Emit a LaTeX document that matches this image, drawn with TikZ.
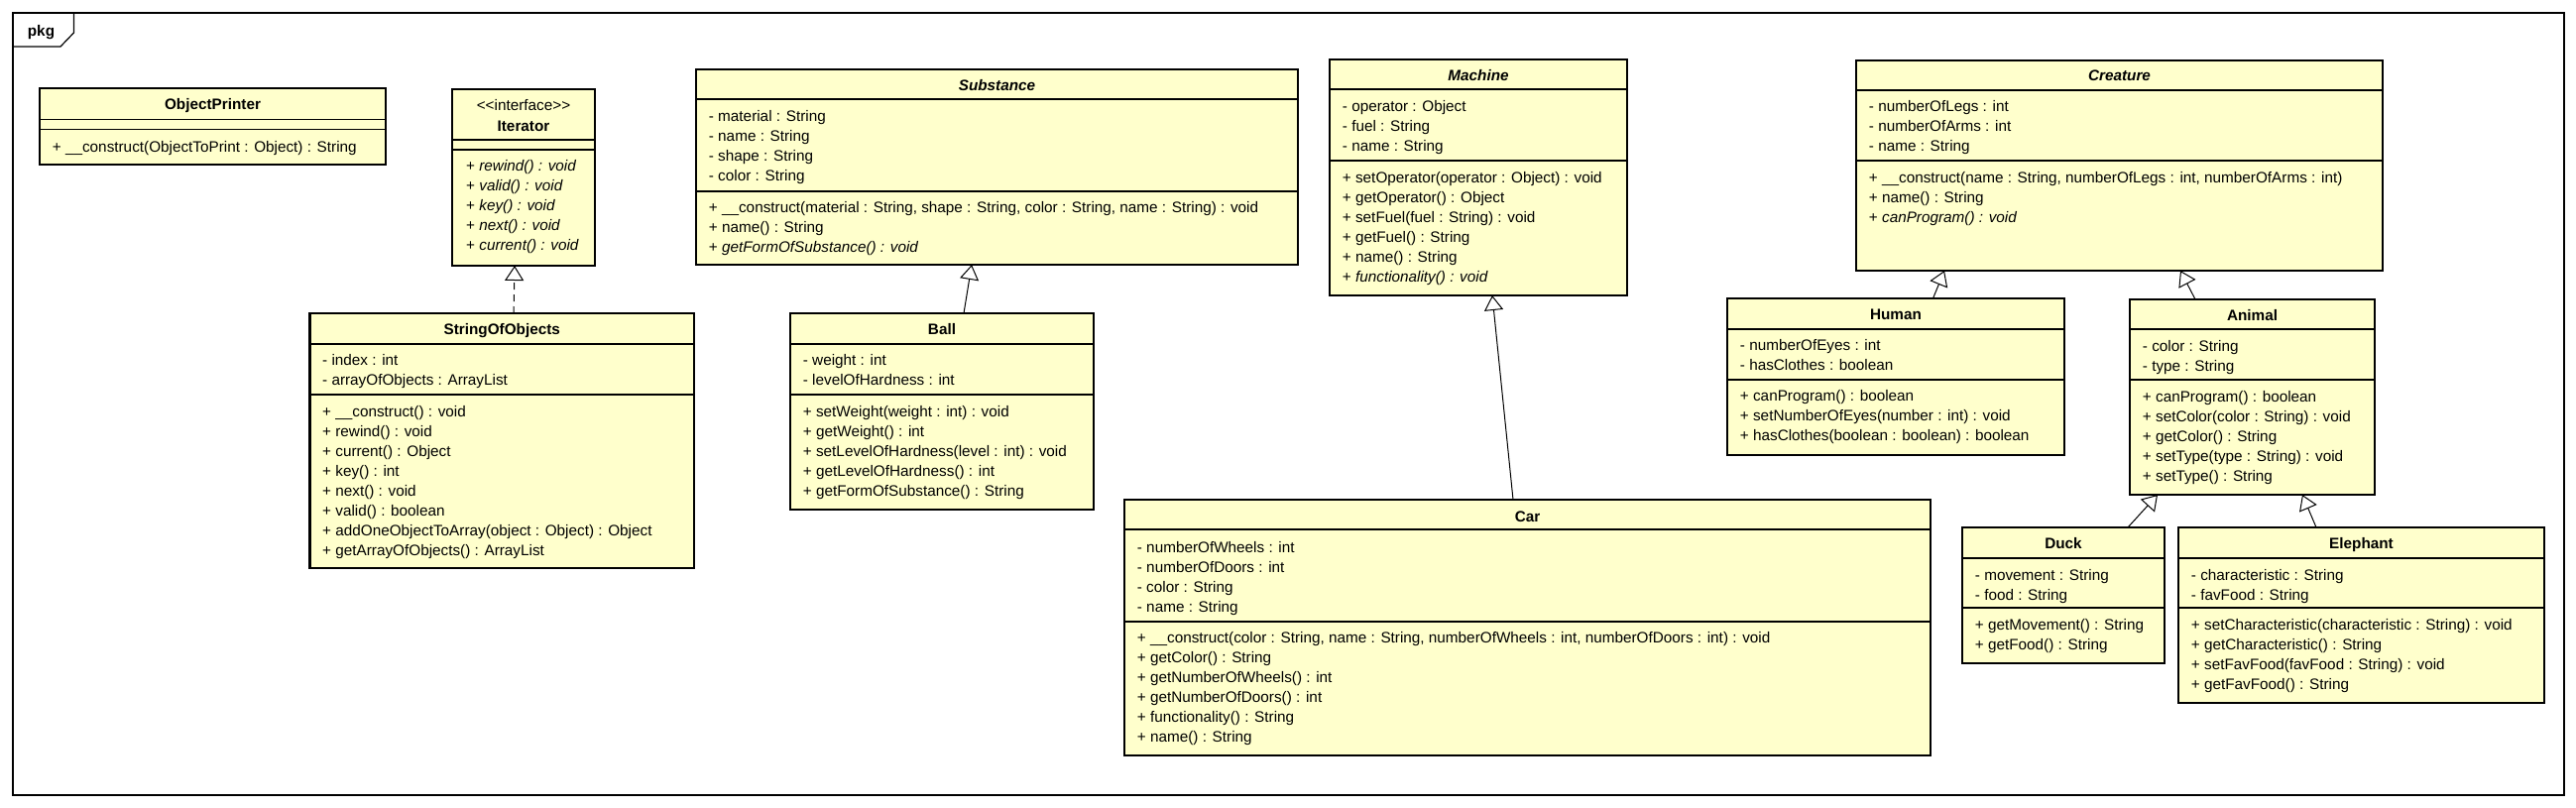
\documentclass[tikz,border=0pt]{standalone}
\usepackage{fontspec}
\setmainfont{Liberation Sans}
\usepackage{tikz}
\usetikzlibrary{arrows.meta}
\definecolor{classyellow}{RGB}{255,255,204}
\newcommand{\umlsize}{\fontsize{15.3pt}{18pt}\selectfont}

\begin{document}
\begin{tikzpicture}[x=1pt,y=-1pt,
  cls/.style={draw=black, fill=classyellow, line width=2.4pt, inner sep=0pt, outer sep=0pt},
  ttl/.style={font=\umlsize\bfseries, anchor=base, inner sep=0pt},
  mem/.style={font=\umlsize, anchor=base west, inner sep=0pt},
  sep/.style={line width=1.1pt},
  gen/.style={line width=1pt, -{Triangle[open, length=15pt, width=19pt]}}]
\useasboundingbox (0,0) rectangle (2598,814);
\node[draw, line width=1.2pt, inner sep=0pt, outer sep=0pt, minimum width=2573pt, minimum height=789pt] (pkgframe) at (1299.5,407.5) {};
\draw[line width=1.2pt] (pkgframe.north west) ++(0,34) -- ++(48,0) -- ++(13.5,-14) -- ++(0,-20);
\node[ttl] (pkg) at (41.5,36) {pkg};

\node[cls, minimum width=349pt, minimum height=77pt] (printer) at (214.5,127.5) {};
\node[ttl] (printer-t) at (214.5,110.7) {ObjectPrinter};
\draw[sep] (printer.north west) ++(0,31.7) -- ++(349,0);
\draw[sep] (printer.north west) ++(0,41.7) -- ++(349,0);
\node[mem] (printer-m1) at (52.7,153) {+ \_\_construct(ObjectToPrint : Object) : String};

\node[cls, minimum width=144pt, minimum height=178pt] (iter) at (528,179) {};
\node[mem, anchor=base] (iter-s) at (528,111) {<\kern0pt<interface>\kern0pt>};
\node[ttl] (iter-t) at (528,132) {Iterator};
\draw[sep] (iter.north west) ++(0,51) -- ++(144,0);
\draw[sep] (iter.north west) ++(0,61) -- ++(144,0);
\foreach \m [count=\i] in {rewind(), valid(), key(), next(), current()}
  \node[mem] (iter-m\i) at (470,152+20*\i) {+ \textit{\m\ : void}};

\node[cls, minimum width=387.5pt, minimum height=257pt] (strobj) at (506.25,444.5) {};
\node[ttl] (strobj-t) at (506.25,337) {StringOfObjects};
\draw[sep] (strobj.north west) ++(0,31) -- ++(387.5,0);
\draw[sep] (strobj.north west) ++(0,82) -- ++(387.5,0);
\foreach \m [count=\i] in {{- index : int}, {- arrayOfObjects : ArrayList}}
  \node[mem] (strobj-a\i) at (325,348+20*\i) {\m};
\foreach \m [count=\i] in {{+ \_\_construct() : void}, {+ rewind() : void}, {+ current() : Object},
    {+ key() : int}, {+ next() : void}, {+ valid() : boolean},
    {+ addOneObjectToArray(object : Object) : Object}, {+ getArrayOfObjects() : ArrayList}}
  \node[mem] (strobj-m\i) at (325,400+20*\i) {\m};

\node[cls, minimum width=607pt, minimum height=197pt] (subst) at (1005.5,168.5) {};
\node[ttl] (subst-t) at (1005.5,91) {\itshape Substance};
\draw[sep] (subst.north west) ++(0,30) -- ++(607,0);
\draw[sep] (subst.north west) ++(0,123) -- ++(607,0);
\foreach \m [count=\i] in {{- material : String}, {- name : String}, {- shape : String}, {- color : String}}
  \node[mem] (subst-a\i) at (714.7,102+20*\i) {\m};
\foreach \m [count=\i] in {{+ \_\_construct(material : String, shape : String, color : String, name : String) : void},
    {+ name() : String}, {+ \textit{getFormOfSubstance() : void}}}
  \node[mem] (subst-m\i) at (714.7,194+20*\i) {\m};

\node[cls, minimum width=306pt, minimum height=198pt] (ball) at (950,415) {};
\node[ttl] (ball-t) at (950,337) {Ball};
\draw[sep] (ball.north west) ++(0,31) -- ++(306,0);
\draw[sep] (ball.north west) ++(0,82) -- ++(306,0);
\foreach \m [count=\i] in {{- weight : int}, {- levelOfHardness : int}}
  \node[mem] (ball-a\i) at (809.7,348+20*\i) {\m};
\foreach \m [count=\i] in {{+ setWeight(weight : int) : void}, {+ getWeight() : int},
    {+ setLevelOfHardness(level : int) : void}, {+ getLevelOfHardness() : int}, {+ getFormOfSubstance() : String}}
  \node[mem] (ball-m\i) at (809.7,400+20*\i) {\m};

\node[cls, minimum width=300pt, minimum height=238pt] (machine) at (1491,179) {};
\node[ttl] (machine-t) at (1491,81) {\itshape Machine};
\draw[sep] (machine.north west) ++(0,30) -- ++(300,0);
\draw[sep] (machine.north west) ++(0,102) -- ++(300,0);
\foreach \m [count=\i] in {{- operator : Object}, {- fuel : String}, {- name : String}}
  \node[mem] (machine-a\i) at (1353.7,92+20*\i) {\m};
\foreach \m [count=\i] in {{+ setOperator(operator : Object) : void}, {+ getOperator() : Object},
    {+ setFuel(fuel : String) : void}, {+ getFuel() : String}, {+ name() : String}, {+ \textit{functionality() : void}}}
  \node[mem] (machine-m\i) at (1353.7,164+20*\i) {\m};

\node[cls, minimum width=813pt, minimum height=258pt] (car) at (1540.5,633) {};
\node[ttl] (car-t) at (1540.5,526) {Car};
\draw[sep] (car.north west) ++(0,30) -- ++(813,0);
\draw[sep] (car.north west) ++(0,123) -- ++(813,0);
\foreach \m [count=\i] in {{- numberOfWheels : int}, {- numberOfDoors : int}, {- color : String}, {- name : String}}
  \node[mem] (car-a\i) at (1146.7,537+20*\i) {\m};
\foreach \m [count=\i] in {{+ \_\_construct(color : String, name : String, numberOfWheels : int, numberOfDoors : int) : void},
    {+ getColor() : String}, {+ getNumberOfWheels() : int}, {+ getNumberOfDoors() : int},
    {+ functionality() : String}, {+ name() : String}}
  \node[mem] (car-m\i) at (1146.7,628+20*\i) {\m};

\node[cls, minimum width=531pt, minimum height=212pt] (creature) at (2137.5,167) {};
\node[ttl] (creature-t) at (2137.5,81) {\itshape Creature};
\draw[sep] (creature.north west) ++(0,30) -- ++(531,0);
\draw[sep] (creature.north west) ++(0,101) -- ++(531,0);
\foreach \m [count=\i] in {{- numberOfLegs : int}, {- numberOfArms : int}, {- name : String}}
  \node[mem] (creature-a\i) at (1884.7,92+20*\i) {\m};
\foreach \m [count=\i] in {{+ \_\_construct(name : String, numberOfLegs : int, numberOfArms : int)},
    {+ name() : String}, {+ \textit{canProgram() : void}}}
  \node[mem] (creature-m\i) at (1884.7,164+20*\i) {\m};

\node[cls, minimum width=340pt, minimum height=158pt] (human) at (1912,380) {};
\node[ttl] (human-t) at (1912,322) {Human};
\draw[sep] (human.north west) ++(0,31) -- ++(340,0);
\draw[sep] (human.north west) ++(0,82) -- ++(340,0);
\foreach \m [count=\i] in {{- numberOfEyes : int}, {- hasClothes : boolean}}
  \node[mem] (human-a\i) at (1754.7,333+20*\i) {\m};
\foreach \m [count=\i] in {{+ canProgram() : boolean}, {+ setNumberOfEyes(number : int) : void},
    {+ hasClothes(boolean : boolean) : boolean}}
  \node[mem] (human-m\i) at (1754.7,384+20*\i) {\m};

\node[cls, minimum width=247pt, minimum height=197pt] (animal) at (2271.5,400.5) {};
\node[ttl] (animal-t) at (2271.5,323) {Animal};
\draw[sep] (animal.north west) ++(0,30) -- ++(247,0);
\draw[sep] (animal.north west) ++(0,81) -- ++(247,0);
\foreach \m [count=\i] in {{- color : String}, {- type : String}}
  \node[mem] (animal-a\i) at (2160.7,334+20*\i) {\m};
\foreach \m [count=\i] in {{+ canProgram() : boolean}, {+ setColor(color : String) : void}, {+ getColor() : String},
    {+ setType(type : String) : void}, {+ setType() : String}}
  \node[mem] (animal-m\i) at (2160.7,385.5+20*\i) {\m};

\node[cls, minimum width=204pt, minimum height=137pt] (duck) at (2081,600.5) {};
\node[ttl] (duck-t) at (2081,553) {Duck};
\draw[sep] (duck.north west) ++(0,31) -- ++(204,0);
\draw[sep] (duck.north west) ++(0,81) -- ++(204,0);
\foreach \m [count=\i] in {{- movement : String}, {- food : String}}
  \node[mem] (duck-a\i) at (1991.7,565+20*\i) {\m};
\foreach \m [count=\i] in {{+ getMovement() : String}, {+ getFood() : String}}
  \node[mem] (duck-m\i) at (1991.7,615+20*\i) {\m};

\node[cls, minimum width=369pt, minimum height=177pt] (eleph) at (2381.5,620.5) {};
\node[ttl] (eleph-t) at (2381.5,553) {Elephant};
\draw[sep] (eleph.north west) ++(0,31) -- ++(369,0);
\draw[sep] (eleph.north west) ++(0,81) -- ++(369,0);
\foreach \m [count=\i] in {{- characteristic : String}, {- favFood : String}}
  \node[mem] (eleph-a\i) at (2209.7,565+20*\i) {\m};
\foreach \m [count=\i] in {{+ setCharacteristic(characteristic : String) : void}, {+ getCharacteristic() : String},
    {+ setFavFood(favFood : String) : void}, {+ getFavFood() : String}}
  \node[mem] (eleph-m\i) at (2209.7,615+20*\i) {\m};

\draw[gen, dash pattern=on 7pt off 5pt] ([xshift=11.75pt]strobj.north) -- ([xshift=-9pt]iter.south);
\draw[gen] ([xshift=22pt]ball.north) -- ([xshift=-25.5pt]subst.south);
\draw[gen] ([xshift=-14.5pt]car.north) -- ([xshift=14pt]machine.south);
\draw[gen] ([xshift=37.5pt]human.north) -- ([xshift=-176.5pt]creature.south);
\draw[gen] ([xshift=-57.5pt]animal.north) -- ([xshift=61.5pt]creature.south);
\draw[gen] ([xshift=65pt]duck.north) -- ([xshift=-95.5pt]animal.south);
\draw[gen] ([xshift=-45.5pt]eleph.north) -- ([xshift=50.5pt]animal.south);
\end{tikzpicture}
\end{document}
